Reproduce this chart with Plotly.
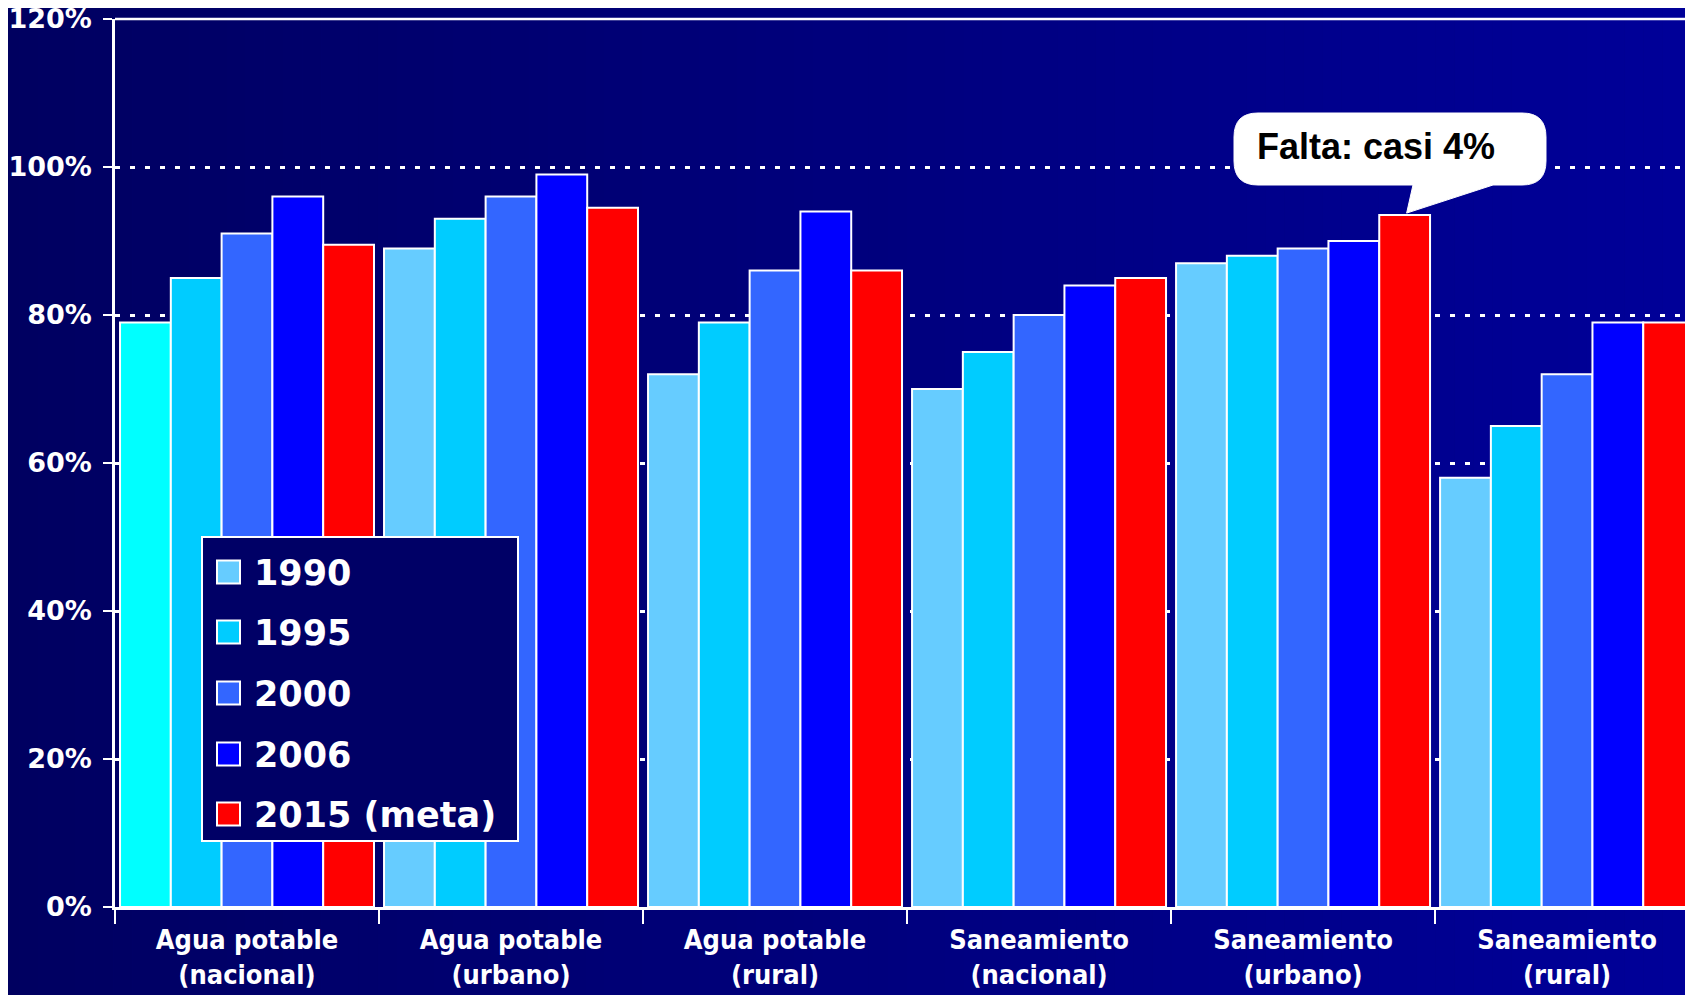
import plotly.graph_objects as go

# ---------------- data ----------------
categories = ["Agua potable<br>(nacional)", "Agua potable<br>(urbano)", "Agua potable<br>(rural)",
              "Saneamiento<br>(nacional)", "Saneamiento<br>(urbano)", "Saneamiento<br>(rural)"]
series_names = ["1990", "1995", "2000", "2006", "2015 (meta)"]
v1990 = [79, 89, 72, 70, 87, 58]
v1995 = [85, 93, 79, 75, 88, 65]
v2000 = [91, 96, 86, 80, 89, 72]
v2006 = [96, 99, 94, 84, 90, 79]
v2015 = [89.5, 94.5, 86, 85, 93.5, 79]
y_ticks = [0, 20, 40, 60, 80, 100, 120]
y_tick_labels = ["0%", "20%", "40%", "60%", "80%", "100%", "120%"]
callout_text = "Falta: casi 4%"
callout_category = 4   # Saneamiento (urbano)
callout_series = 4     # 2015 (meta)

# ---------------- style ----------------
OFF = 8                      # page offset of the figure div
W, H = 1693 - OFF, 995 - OFF
ML, MR, MT, MB = 115 - OFF, 0, 19 - OFF, 88
PW, PH = W - ML - MR, H - MT - MB
X_RANGE = [-0.5, 5.477]
Y_RANGE = [0, 120]
BARGAP = 0.038
colors = ["#66CCFF", "#00CCFF", "#3366FF", "#0000FF", "#FF0000"]
first_1990_color = "#00FFFF"
WHITE = "#FFFFFF"


def pxx(p):
    """page pixel x -> paper"""
    return (p - OFF - ML) / PW


def pxy(p):
    """page pixel y -> paper"""
    return (OFF + MT + PH - p) / PH


def data_to_px(xv, yv):
    x = OFF + ML + (xv - X_RANGE[0]) / (X_RANGE[1] - X_RANGE[0]) * PW
    y = OFF + MT + PH - (yv - Y_RANGE[0]) / (Y_RANGE[1] - Y_RANGE[0]) * PH
    return x, y


series_values = [v1990, v1995, v2000, v2006, v2015]

fig = go.Figure()
for i, (name, vals) in enumerate(zip(series_names, series_values)):
    cols = [colors[i]] * len(vals)
    if i == 0:
        cols[0] = first_1990_color
    fig.add_trace(go.Bar(
        x=categories, y=vals, name=name,
        marker=dict(color=cols, line=dict(color=WHITE, width=2)),
        showlegend=False, hoverinfo="skip",
    ))

shapes = []
# gradient background strips
N = 90
x0p, x1p = pxx(0), pxx(1700)
y0p, y1p = pxy(1000), pxy(0)
c_left = (0, 0, 96)
c_right = (0, 0, 153)
for k in range(N):
    t = (k + 0.5) / N
    col = "rgb(%d,%d,%d)" % tuple(round(a + (b - a) * t) for a, b in zip(c_left, c_right))
    xa = x0p + (x1p - x0p) * k / N
    xb = x0p + (x1p - x0p) * (k + 1.02) / N
    shapes.append(dict(type="rect", xref="paper", yref="paper", x0=xa, x1=xb, y0=y0p, y1=y1p,
                       fillcolor=col, line=dict(width=0), layer="below"))

# top solid line
shapes.append(dict(type="line", xref="paper", yref="paper", x0=0, x1=1, y0=1, y1=1,
                   line=dict(color=WHITE, width=2.5)))

# custom legend
LB = dict(l=202, r=518, t=537, b=841)
shapes.append(dict(type="rect", xref="paper", yref="paper",
                   x0=pxx(LB["l"]), x1=pxx(LB["r"]), y0=pxy(LB["b"]), y1=pxy(LB["t"]),
                   fillcolor="#000066", line=dict(color=WHITE, width=2)))
annotations = []
item_y = [572, 632, 693, 754, 814]
for i, name in enumerate(series_names):
    cy = item_y[i]
    shapes.append(dict(type="rect", xref="paper", yref="paper",
                       x0=pxx(217), x1=pxx(240), y0=pxy(cy + 11.5), y1=pxy(cy - 11.5),
                       fillcolor=colors[i], line=dict(color=WHITE, width=2)))
    annotations.append(dict(xref="paper", yref="paper", x=pxx(252), y=pxy(cy + 1),
                            xanchor="left", yanchor="middle", showarrow=False, text=name,
                            font=dict(family="DejaVu Sans", size=35, color=WHITE, weight="bold")))

# callout bubble
n_series = len(series_names)
bw = (1 - BARGAP) / n_series
tip_xv = callout_category + (callout_series - (n_series - 1) / 2) * bw
tip_x, tip_y = data_to_px(tip_xv, series_values[callout_series][callout_category])
tip_x += 2
tip_y -= 2
bl, br, bt, bb, r = 1234, 1546, 113, 185, 24
pts = [
    ("M", bl + r, bt), ("L", br - r, bt), ("Q", br, bt, br, bt + r), ("L", br, bb - r),
    ("Q", br, bb, br - r, bb), ("L", 1493, bb), ("L", tip_x, tip_y), ("L", 1413, bb),
    ("L", bl + r, bb), ("Q", bl, bb, bl, bb - r), ("L", bl, bt + r), ("Q", bl, bt, bl + r, bt),
]
path = ""
for p in pts:
    cmd = p[0]
    coords = p[1:]
    s = []
    for j in range(0, len(coords), 2):
        s.append("%.5f,%.5f" % (pxx(coords[j]), pxy(coords[j + 1])))
    path += cmd + " ".join(s) + " "
path += "Z"
shapes.append(dict(type="path", xref="paper", yref="paper", path=path,
                   fillcolor=WHITE, line=dict(color=WHITE, width=1)))
annotations.append(dict(xref="paper", yref="paper", x=pxx(1376), y=pxy(146),
                        xanchor="center", yanchor="middle", showarrow=False, text=callout_text,
                        font=dict(family="Liberation Sans, Arial", size=36, color="#000000",
                                  weight="bold")))

fig.update_layout(
    width=W, height=H,
    margin=dict(l=ML, r=MR, t=MT, b=MB, pad=0),
    paper_bgcolor="#00007D", plot_bgcolor="#00007D",
    barmode="group", bargap=BARGAP, bargroupgap=0,
    shapes=shapes, annotations=annotations,
    showlegend=False,
    xaxis=dict(
        type="category", range=X_RANGE, showgrid=False,
        showline=True, linecolor=WHITE, linewidth=2.5,
        ticks="outside", tickson="boundaries", ticklen=14, tickwidth=2, tickcolor=WHITE,
        ticklabelstandoff=7,
        tickfont=dict(family="DejaVu Sans Condensed, Liberation Sans Narrow, DejaVu Sans",
                      size=27, color=WHITE, weight="bold"),
        automargin=False, fixedrange=True,
    ),
    yaxis=dict(
        range=Y_RANGE, tickvals=y_ticks, ticktext=y_tick_labels,
        showgrid=True, gridcolor=WHITE, gridwidth=2.5, griddash="5px,10px",
        showline=True, linecolor=WHITE, linewidth=2.5,
        ticks="outside", ticklen=9, tickwidth=2, tickcolor=WHITE,
        ticklabelstandoff=6, ticklabeloverflow="allow",
        tickfont=dict(family="DejaVu Sans", size=27, color=WHITE, weight="bold"),
        zeroline=False, automargin=False, fixedrange=True,
    ),
)

fig.write_html("out.html")
